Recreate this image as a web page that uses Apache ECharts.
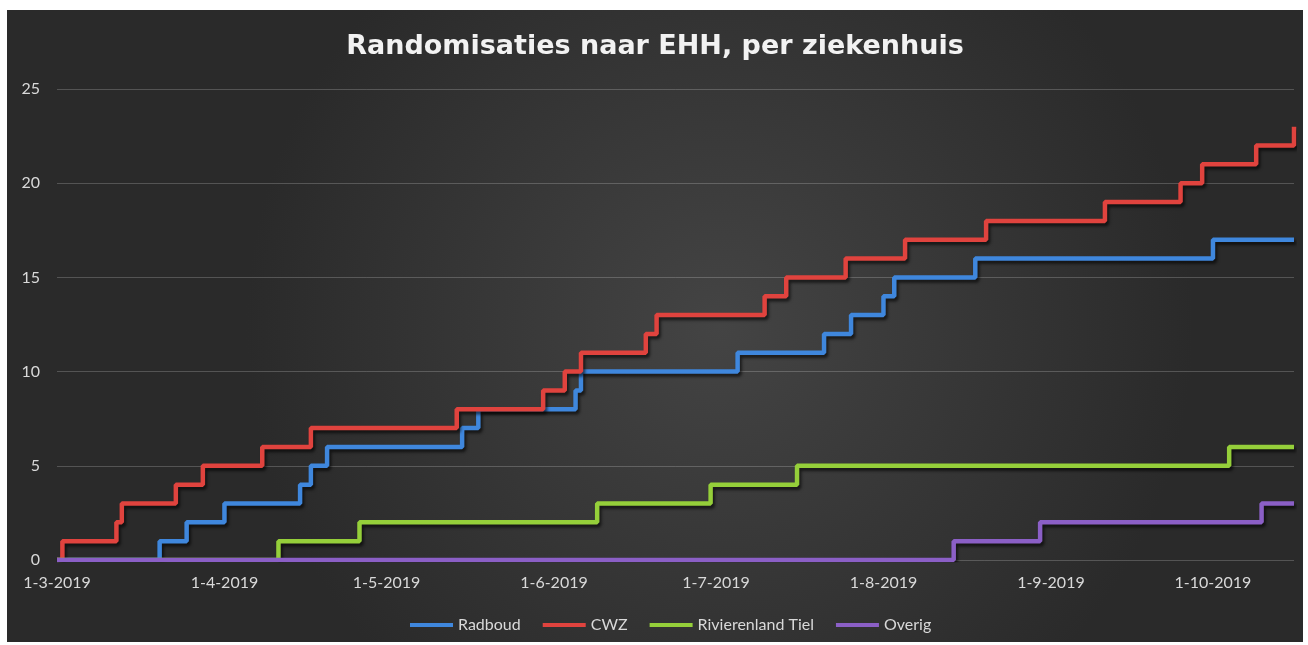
<!DOCTYPE html>
<html>
<head>
<meta charset="utf-8">
<script src="https://cdn.jsdelivr.net/npm/echarts@6/dist/echarts.min.js"></script>
<style>
  html, body { margin: 0; padding: 0; background: #ffffff; }
  #chart { position: absolute; left: 7px; top: 10px; width: 1296px; height: 632px; }
</style>
</head>
<body>
<div id="chart"></div>
<script>
// cumulatieve randomisaties, datum waarop de nieuwe stand bereikt is
var radboudDates = ['2019-03-01','2019-03-20','2019-03-25','2019-04-01','2019-04-15','2019-04-17','2019-04-20',
  '2019-05-15','2019-05-18','2019-06-05','2019-06-06','2019-07-05','2019-07-21','2019-07-26','2019-08-01',
  '2019-08-03','2019-08-18','2019-10-01','2019-10-16'];
var radboudCounts = [0,1,2,3,4,5,6,7,8,9,10,11,12,13,14,15,16,17,17];

var cwzDates = ['2019-03-01','2019-03-02','2019-03-12','2019-03-13','2019-03-23','2019-03-28','2019-04-08',
  '2019-04-17','2019-05-14','2019-05-30','2019-06-03','2019-06-06','2019-06-18','2019-06-20','2019-07-10',
  '2019-07-14','2019-07-25','2019-08-05','2019-08-20','2019-09-11','2019-09-25','2019-09-29','2019-10-09',
  '2019-10-16'];
var cwzCounts = [0,1,2,3,4,5,6,7,8,9,10,11,12,13,14,15,16,17,18,19,20,21,22,23];

var tielDates = ['2019-03-01','2019-04-11','2019-04-26','2019-06-09','2019-06-30','2019-07-16','2019-10-04','2019-10-16'];
var tielCounts = [0,1,2,3,4,5,6,6];

var overigDates = ['2019-03-01','2019-08-14','2019-08-30','2019-10-10','2019-10-16'];
var overigCounts = [0,1,2,3,3];

var tickDates = ['2019-03-01','2019-04-01','2019-05-01','2019-06-01','2019-07-01','2019-08-01','2019-09-01','2019-10-01'];
var yTicks = [0,5,10,15,20,25];

var seriesNames = ['Radboud','CWZ','Rivierenland Tiel','Overig'];
var seriesColors = ['#3f87dd','#e0433e','#95cf3a','#8b5fc6'];

function t(s) {
  var p = s.split('-');
  return new Date(+p[0], +p[1] - 1, +p[2]).getTime();
}
function pairs(dates, counts) {
  return dates.map(function (d, i) { return [t(d), counts[i]]; });
}

var allData = [
  pairs(radboudDates, radboudCounts),
  pairs(cwzDates, cwzCounts),
  pairs(tielDates, tielCounts),
  pairs(overigDates, overigCounts)
];

var myChart = echarts.init(document.getElementById('chart'));

var option = {
  backgroundColor: {
    type: 'radial', x: 0.55, y: 0.5, r: 0.75,
    colorStops: [{ offset: 0, color: '#444444' }, { offset: 1, color: '#2a2a2a' }]
  },
  animation: false,
  title: {
    text: 'Randomisaties naar EHH, per ziekenhuis',
    left: 'center',
    top: 18,
    textStyle: { color: '#f2f2f2', fontFamily: 'DejaVu Sans', fontWeight: 'bold', fontSize: 27 }
  },
  legend: {
    bottom: 4,
    left: 398,
    icon: 'rect',
    itemWidth: 43,
    itemHeight: 4,
    itemGap: 22,
    textStyle: { color: '#d9d9d9', fontFamily: 'Lato', fontSize: 16 },
    data: seriesNames
  },
  grid: { left: 50, right: 9, top: 79, bottom: 82, containLabel: false },
  xAxis: {
    type: 'value',
    min: t(tickDates[0]),
    max: t('2019-10-16'),
    axisLine: { show: false },
    axisTick: { show: false },
    splitLine: { show: false },
    axisLabel: {
      color: '#d9d9d9',
      fontFamily: 'Lato',
      fontSize: 16,
      margin: 15,
      hideOverlap: false,
      showMinLabel: true,
      customValues: tickDates.map(t),
      formatter: function (v) {
        var d = new Date(v);
        return d.getDate() + '-' + (d.getMonth() + 1) + '-' + d.getFullYear();
      }
    }
  },
  yAxis: {
    type: 'value',
    min: yTicks[0],
    max: yTicks[yTicks.length - 1],
    interval: 5,
    axisLine: { show: false },
    axisTick: { show: false },
    splitLine: { lineStyle: { color: 'rgba(255,255,255,0.2)', width: 1 } },
    axisLabel: { color: '#d9d9d9', fontFamily: 'Lato', fontSize: 16, margin: 17 }
  },
  series: seriesNames.map(function (name, i) {
    return {
      name: name,
      type: 'line',
      step: 'end',
      showSymbol: false,
      data: allData[i],
      color: seriesColors[i],
      lineStyle: {
        width: 4.5,
        color: seriesColors[i],
        shadowColor: 'rgba(0,0,0,0.6)',
        shadowBlur: 3,
        shadowOffsetX: 2,
        shadowOffsetY: 3
      }
    };
  })
};

myChart.setOption(option);
</script>
</body>
</html>
